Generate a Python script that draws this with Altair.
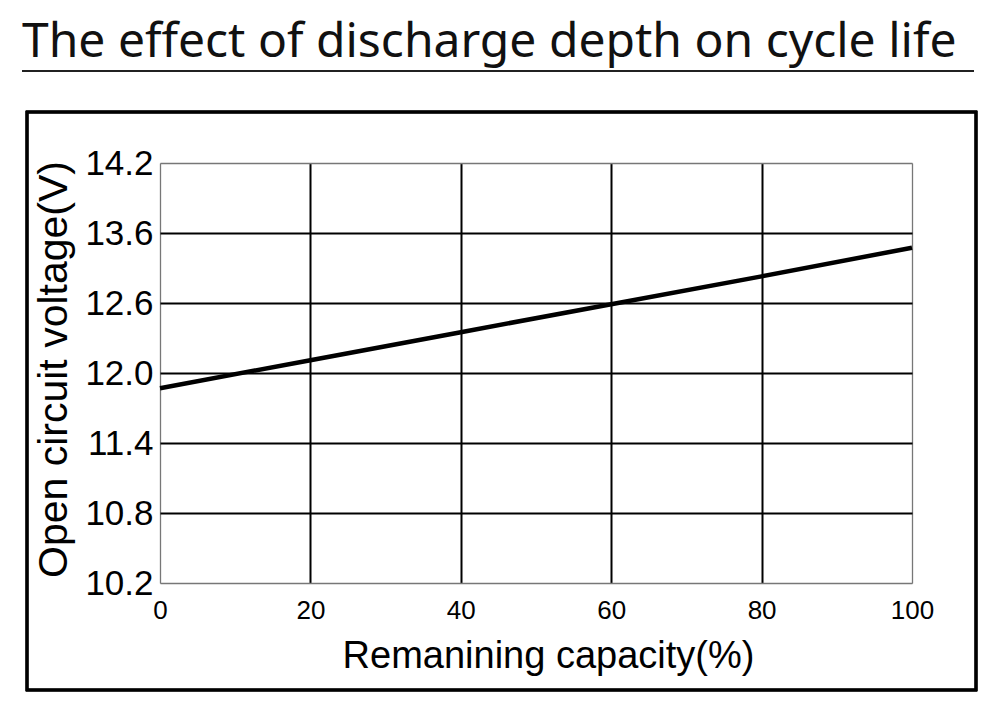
import altair as alt
import pandas as pd

# Data
capacity = [0, 20, 40, 60, 80, 100]
voltage = [11.87, 12.11, 12.35, 12.59, 12.98, 13.39]
y_ticks = [10.2, 10.8, 11.4, 12.0, 12.6, 13.6, 14.2]
x_ticks = [0, 20, 40, 60, 80, 100]

df = pd.DataFrame({"capacity": capacity, "voltage": voltage})

W, H = 752, 420
y_range = [H - i * H / (len(y_ticks) - 1) for i in range(len(y_ticks))]

LABEL_FONT = "Liberation Sans"

x_enc = alt.X(
    "capacity:Q",
    scale=alt.Scale(domain=[0, 100], nice=False, zero=False),
    axis=alt.Axis(
        values=x_ticks,
        title="Remanining capacity(%)",
        titleFont=LABEL_FONT,
        titleFontSize=38,
        titleFontWeight="normal",
        titleColor="black",
        titleX=388,
        titleY=84,
        titleAlign="center",
        titleBaseline="alphabetic",
        labelFont=LABEL_FONT,
        labelFontSize=26,
        labelColor="black",
        labelPadding=14,
        labelFlush=False,
        labelOverlap=False,
        ticks=False,
        domain=False,
        grid=True,
        gridColor={"condition": {"test": "datum.value == 0 || datum.value == 100", "value": "#777777"}, "value": "black"},
        gridWidth={"condition": {"test": "datum.value == 0 || datum.value == 100", "value": 1.3}, "value": 2},
    ),
)

y_enc = alt.Y(
    "voltage:Q",
    scale=alt.Scale(domain=y_ticks, range=y_range, nice=False, zero=False),
    axis=alt.Axis(
        values=y_ticks,
        format=".1f",
        title="Open circuit voltage(V)",
        titleFont=LABEL_FONT,
        titleFontSize=41,
        titleFontWeight="normal",
        titleColor="black",
        titleAngle=270,
        titleX=-94,
        titleY=206,
        titleAlign="center",
        titleBaseline="alphabetic",
        labelFont=LABEL_FONT,
        labelFontSize=35,
        labelColor="black",
        labelPadding=7,
        labelFlush=False,
        labelOverlap=False,
        ticks=False,
        domain=False,
        grid=True,
        gridColor={"condition": {"test": "datum.value == 10.2 || datum.value == 14.2", "value": "#777777"}, "value": "black"},
        gridWidth={"condition": {"test": "datum.value == 10.2 || datum.value == 14.2", "value": 1.3}, "value": 2},
    ),
)

line = alt.Chart(df).mark_line(color="black", strokeWidth=4.5).encode(x=x_enc, y=y_enc)

underline = alt.Chart(df).mark_rule(color="#222222", strokeWidth=1.6).encode(
    x=alt.value(-138), x2=alt.value(814), y=alt.value(-92)
)

frame = alt.Chart(df).mark_rect(fill="white", fillOpacity=0, stroke="black", strokeWidth=2.5).encode(
    x=alt.value(-133), x2=alt.value(816), y=alt.value(-51), y2=alt.value(527)
)

chart = (
    alt.layer(frame, underline, line)
    .properties(
        width=W,
        height=H,
        autosize=alt.AutoSizeParams(type="none"),
        padding={"left": 152, "top": 155, "right": 80, "bottom": 110},
        title=alt.TitleParams(
            "The effect of discharge depth on cycle life",
            anchor="start",
            frame="group",
            dx=-138,
            font="Noto Sans",
            fontSize=48,
            fontWeight=400,
            color="#111111",
            offset=3,
        ),
    )
    .configure_view(stroke=None)
    .configure(background="white")
)

chart.save("out.html", embed_options={"renderer": "svg", "actions": False})
